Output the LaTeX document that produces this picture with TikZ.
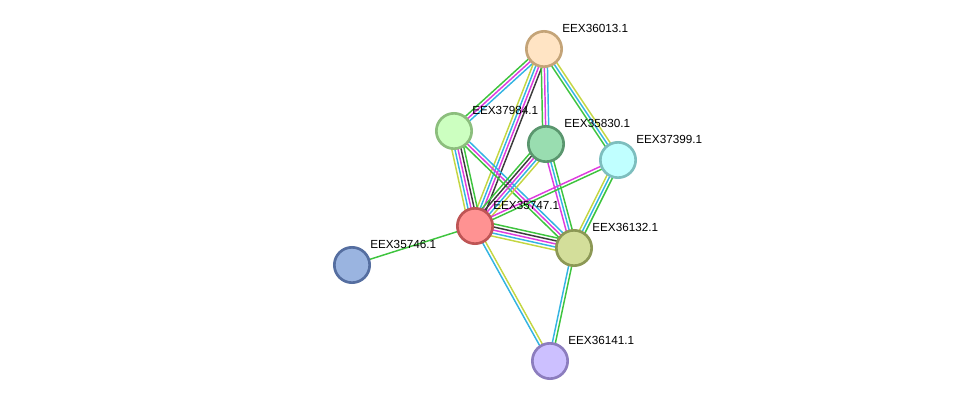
\documentclass[tikz,border=0pt]{standalone}
\usepackage{fontspec}
\setmainfont{Liberation Sans}
\usetikzlibrary{calc,backgrounds}

\definecolor{cgreen}{RGB}{62,196,62}
\definecolor{cmag}{RGB}{222,60,222}
\definecolor{ccyan}{RGB}{52,180,226}
\definecolor{cyel}{RGB}{196,214,66}
\definecolor{cblk}{RGB}{60,60,60}

% one evidence line per colour, side by side
\newcommand{\link}[4]{%
  \foreach \col [count=\i] in {#4} {
    \pgfmathsetmacro{\off}{(\i-(#3+1)/2)*2.3}
    \draw[ln, \col] ($(#1)!\off pt!90:(#2)$) -- ($(#2)!\off pt!-90:(#1)$);
  }}

\begin{document}
\begin{tikzpicture}[x=0.75pt, y=-0.75pt,
    prot/.style={circle, draw, line width=2pt, minimum size=26.5pt, inner sep=0pt},
    lab/.style={font=\fontsize{8.8}{10}\selectfont, anchor=west, inner sep=0pt},
    ln/.style={line width=1.1pt}]
  \useasboundingbox (0,0) rectangle (975,407);

  % proteins
  \node[prot, fill={rgb,255:red,255;green,228;blue,196}, draw={rgb,255:red,196;green,164;blue,120}] (n36013) at (544,49) {};
  \node[prot, fill={rgb,255:red,204;green,255;blue,192}, draw={rgb,255:red,140;green,190;blue,125}] (n37984) at (454,131) {};
  \node[prot, fill={rgb,255:red,153;green,221;blue,176}, draw={rgb,255:red,90;green,150;blue,110}] (n35830) at (546,144) {};
  \node[prot, fill={rgb,255:red,192;green,255;blue,255}, draw={rgb,255:red,125;green,190;blue,190}] (n37399) at (618,160) {};
  \node[prot, fill={rgb,255:red,255;green,146;blue,146}, draw={rgb,255:red,190;green,85;blue,85}] (n35747) at (475,226) {};
  \node[prot, fill={rgb,255:red,211;green,222;blue,154}, draw={rgb,255:red,140;green,152;blue,85}] (n36132) at (574,248) {};
  \node[prot, fill={rgb,255:red,154;green,180;blue,224}, draw={rgb,255:red,85;green,110;blue,160}] (n35746) at (352,265) {};
  \node[prot, fill={rgb,255:red,204;green,192;blue,255}, draw={rgb,255:red,140;green,125;blue,190}] (n36141) at (550,361) {};

  % names
  \node[lab] (l36013) at ($(n36013)+(18,-21)$) {EEX36013.1};
  \node[lab] (l37984) at ($(n37984)+(18,-21)$) {EEX37984.1};
  \node[lab] (l35830) at ($(n35830)+(18,-21)$) {EEX35830.1};
  \node[lab] (l37399) at ($(n37399)+(18,-21)$) {EEX37399.1};
  \node[lab] (l35747) at ($(n35747)+(18,-21)$) {EEX35747.1};
  \node[lab] (l36132) at ($(n36132)+(18,-21)$) {EEX36132.1};
  \node[lab] (l35746) at ($(n35746)+(18,-21)$) {EEX35746.1};
  \node[lab] (l36141) at ($(n36141)+(18,-21)$) {EEX36141.1};

  % edges
  \begin{scope}[on background layer]
    \link{n36013}{n37984}{3}{cgreen,cmag,ccyan}
    \link{n36013}{n35747}{4}{cyel,ccyan,cmag,cblk}
    \link{n36013}{n35830}{3}{cgreen,cmag,ccyan}
    \link{n36013}{n37399}{3}{cgreen,ccyan,cyel}
    \link{n37984}{n35747}{5}{cyel,ccyan,cmag,cblk,cgreen}
    \link{n37984}{n36132}{3}{cgreen,cmag,ccyan}
    \link{n35830}{n35747}{5}{cgreen,cblk,cmag,ccyan,cyel}
    \link{n35830}{n36132}{3}{cmag,ccyan,cgreen}
    \link{n37399}{n35747}{2}{cmag,cgreen}
    \link{n37399}{n36132}{3}{cyel,ccyan,cgreen}
    \link{n35747}{n36132}{5}{cyel,ccyan,cmag,cblk,cgreen}
    \link{n35747}{n35746}{1}{cgreen}
    \link{n35747}{n36141}{2}{ccyan,cyel}
    \link{n36132}{n36141}{2}{ccyan,cgreen}
  \end{scope}
\end{tikzpicture}
\end{document}
